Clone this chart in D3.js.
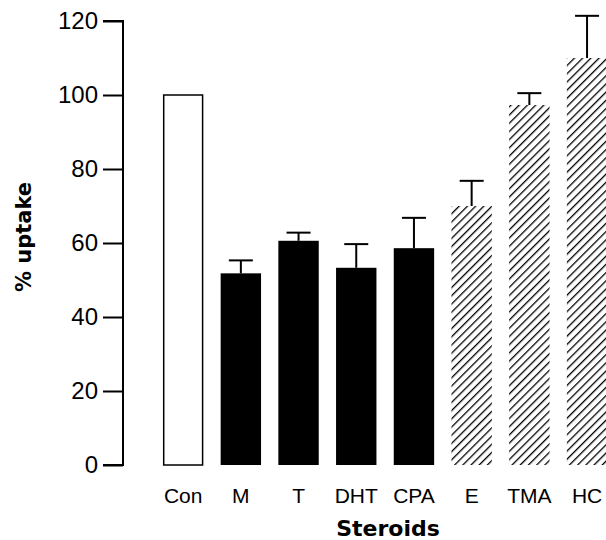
<!DOCTYPE html>
<html>
<head>
<meta charset="utf-8">
<script src="https://cdn.jsdelivr.net/npm/d3@7"></script>
<style>
  html, body { margin: 0; padding: 0; background: #fff; }
  svg { display: block; }
</style>
</head>
<body>
<svg id="chart" width="606" height="540"></svg>
<script>
const categories = ["Con", "M", "T", "DHT", "CPA", "E", "TMA", "HC"];
const means      = [100, 51.8, 60.6, 53.3, 58.6, 70, 97.3, 110];
const errTops    = [null, 55.3, 62.8, 59.7, 66.8, 76.8, 100.5, 121.4];
const fills      = ["open", "solid", "solid", "solid", "solid", "hatch", "hatch", "hatch"];
const yTicks     = [0, 20, 40, 60, 80, 100, 120];

const svg = d3.select("#chart");

const defs = svg.append("defs");
const pat = defs.append("pattern")
  .attr("id", "hatch")
  .attr("patternUnits", "userSpaceOnUse")
  .attr("width", 5.8).attr("height", 6)
  .attr("patternTransform", "rotate(45)");
pat.append("line")
  .attr("x1", 0).attr("y1", 0).attr("x2", 0).attr("y2", 6)
  .attr("stroke", "#000").attr("stroke-width", 2.6);

const y = d3.scaleLinear().domain([0, 120]).range([465, 21]);
const x = d3.scaleBand().domain(categories)
  .range([154.3, 615.9]).paddingInner(0.3).paddingOuter(0.15);

const data = categories.map((c, i) => ({ c, v: means[i], e: errTops[i], f: fills[i] }));

// error bars (drawn first so bars cover the stem base)
const eb = svg.append("g").selectAll("g").data(data.filter(d => d.e != null)).join("g");
eb.append("line")
  .attr("x1", d => x(d.c) + x.bandwidth() / 2)
  .attr("x2", d => x(d.c) + x.bandwidth() / 2)
  .attr("y1", d => y(d.v)).attr("y2", d => y(d.e))
  .attr("stroke", "#000").attr("stroke-width", 2);
eb.append("line")
  .attr("x1", d => x(d.c) + x.bandwidth() / 2 - 12)
  .attr("x2", d => x(d.c) + x.bandwidth() / 2 + 12)
  .attr("y1", d => y(d.e)).attr("y2", d => y(d.e))
  .attr("stroke", "#000").attr("stroke-width", 2);

// bars
svg.append("g").selectAll("rect").data(data).join("rect")
  .attr("x", d => x(d.c) + (d.f === "open" ? 0.75 : 0))
  .attr("width", d => x.bandwidth() - (d.f === "open" ? 1.5 : 0))
  .attr("y", d => y(d.v))
  .attr("height", d => y(0) - y(d.v))
  .attr("fill", d => d.f === "solid" ? "#000" : d.f === "hatch" ? "url(#hatch)" : "#fff")
  .attr("stroke", d => d.f === "open" ? "#000" : "none")
  .attr("stroke-width", 1.5);

// y axis
const yAxis = d3.axisLeft(y).tickValues(yTicks).tickSize(20).tickPadding(5);
const gy = svg.append("g").attr("transform", "translate(123,0)").call(yAxis);
gy.select(".domain").attr("stroke-width", 2).attr("d", `M-20,${y(120)}H0V${y(0)}H-20`);
gy.selectAll(".tick line").attr("stroke-width", 2);
gy.selectAll(".tick text")
  .attr("font-family", "Liberation Sans, Arial, sans-serif")
  .attr("font-size", 24).attr("fill", "#000");

// x category labels
svg.append("g").selectAll("text").data(categories).join("text")
  .attr("x", d => x(d) + x.bandwidth() / 2)
  .attr("y", 503)
  .attr("text-anchor", "middle")
  .attr("font-family", "Liberation Sans, Arial, sans-serif")
  .attr("font-size", 21)
  .text(d => d);

// axis titles
svg.append("text")
  .attr("x", 388).attr("y", 536)
  .attr("text-anchor", "middle")
  .attr("font-family", "DejaVu Sans, sans-serif")
  .attr("font-weight", "bold").attr("font-size", 22)
  .text("Steroids");

svg.append("text")
  .attr("transform", "translate(31,237) rotate(-90)")
  .attr("text-anchor", "middle")
  .attr("font-family", "DejaVu Sans, sans-serif")
  .attr("font-weight", "bold").attr("font-size", 21)
  .text("% uptake");
</script>
</body>
</html>
